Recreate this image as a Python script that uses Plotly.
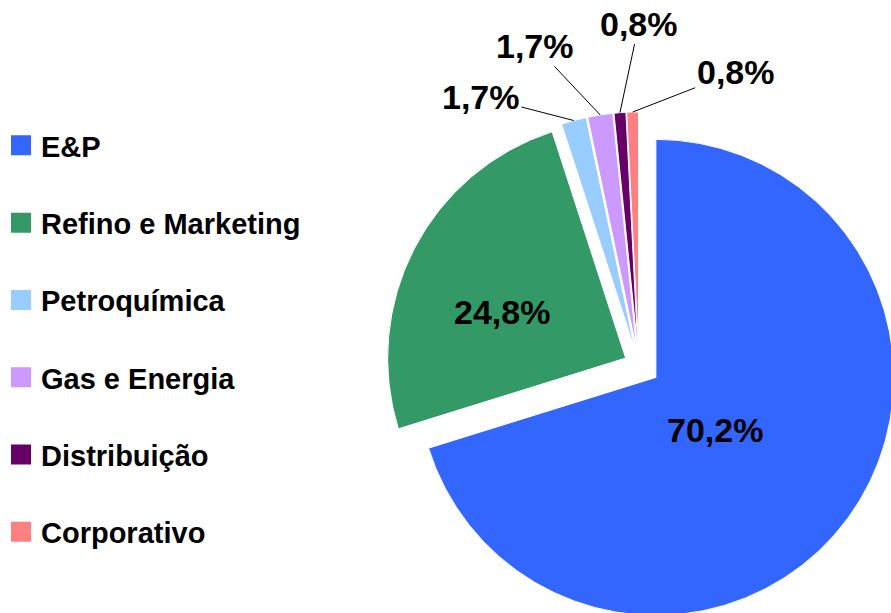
import math
import plotly.graph_objects as go

categories = ["E&P", "Refino e Marketing", "Petroquímica", "Gas e Energia", "Distribuição", "Corporativo"]
values = [70.2, 24.8, 1.7, 1.7, 0.8, 0.8]
value_labels = ["70,2%", "24,8%", "1,7%", "1,7%", "0,8%", "0,8%"]
colors = ["#3366FF", "#339966", "#99CCFF", "#CC99FF", "#660066", "#FF8080"]
pulls = [0.088, 0.063, 0.063, 0.063, 0.063, 0.063]

W, H = 900, 640
FONT = "Liberation Sans, Arial, sans-serif"

# pie domain (pixels)
cx, cy, half = 639.0, 365.0, 259.0
dom_x = [(cx - half) / W, (cx + half) / W]
dom_y = [1 - (cy + half) / H, 1 - (cy - half) / H]
R = half / (1 + max(pulls))

fig = go.Figure()
fig.add_trace(go.Pie(
    labels=categories, values=values, textinfo="none",
    marker=dict(colors=colors, line=dict(color="white", width=1)),
    pull=pulls, sort=False, direction="clockwise", rotation=0,
    domain=dict(x=dom_x, y=dom_y), showlegend=False, hoverinfo="label+percent",
))

# legend entries
for name, col in zip(categories, colors):
    fig.add_trace(go.Scatter(
        x=[None], y=[None], mode="markers", name=name, legendgroup=name,
        marker=dict(symbol="square", size=16, color=col, line=dict(color=col, width=4)),
        showlegend=True,
    ))

# label placement: (radius fraction from slice vertex, x shift, y shift) or arrow offsets
inside_place = {0: (0.35, -8, -3), 1: (0.56, -5, -15)}
arrow_offsets = {2: (-93, -24), 3: (-65, -69), 4: (19, -89), 5: (103, -40)}

total = sum(values)
cum = 0.0
annotations = []
for i, v in enumerate(values):
    mid = (cum + v / 2) / total * 2 * math.pi
    cum += v
    sx, sy = math.sin(mid), -math.cos(mid)
    vx = cx + pulls[i] * R * sx
    vy = cy + pulls[i] * R * sy
    font = dict(family=FONT, size=34, color="black", weight="bold")
    if i in inside_place:
        f, dx, dy = inside_place[i]
        px, py = vx + f * R * sx, vy + f * R * sy
        annotations.append(dict(
            x=px / W, y=1 - py / H, xref="paper", yref="paper",
            xanchor="center", yanchor="middle",
            text=value_labels[i], showarrow=False, xshift=dx, yshift=dy, font=font,
        ))
    else:
        px, py = vx + R * sx, vy + R * sy
        annotations.append(dict(
            x=px / W, y=1 - py / H, xref="paper", yref="paper",
            text=value_labels[i], showarrow=True, arrowhead=0, arrowwidth=1,
            arrowcolor="black", ax=arrow_offsets[i][0], ay=arrow_offsets[i][1],
            standoff=0, font=font,
        ))

fig.update_layout(
    width=W, height=H, margin=dict(l=0, r=0, t=0, b=0),
    paper_bgcolor="white", plot_bgcolor="white",
    xaxis=dict(visible=False), yaxis=dict(visible=False),
    legend=dict(x=1 / W, y=1 - 120 / H, xanchor="left", yanchor="top",
                font=dict(family=FONT, size=29, color="black", weight="bold"),
                tracegroupgap=36.6, bgcolor="rgba(0,0,0,0)", itemsizing="trace"),
    annotations=annotations,
)

fig.write_html("out.html", config={"displayModeBar": False}, post_script=(
    "document.body.style.margin='0';document.body.style.overflow='hidden';"
    "document.documentElement.style.overflow='hidden';"))
